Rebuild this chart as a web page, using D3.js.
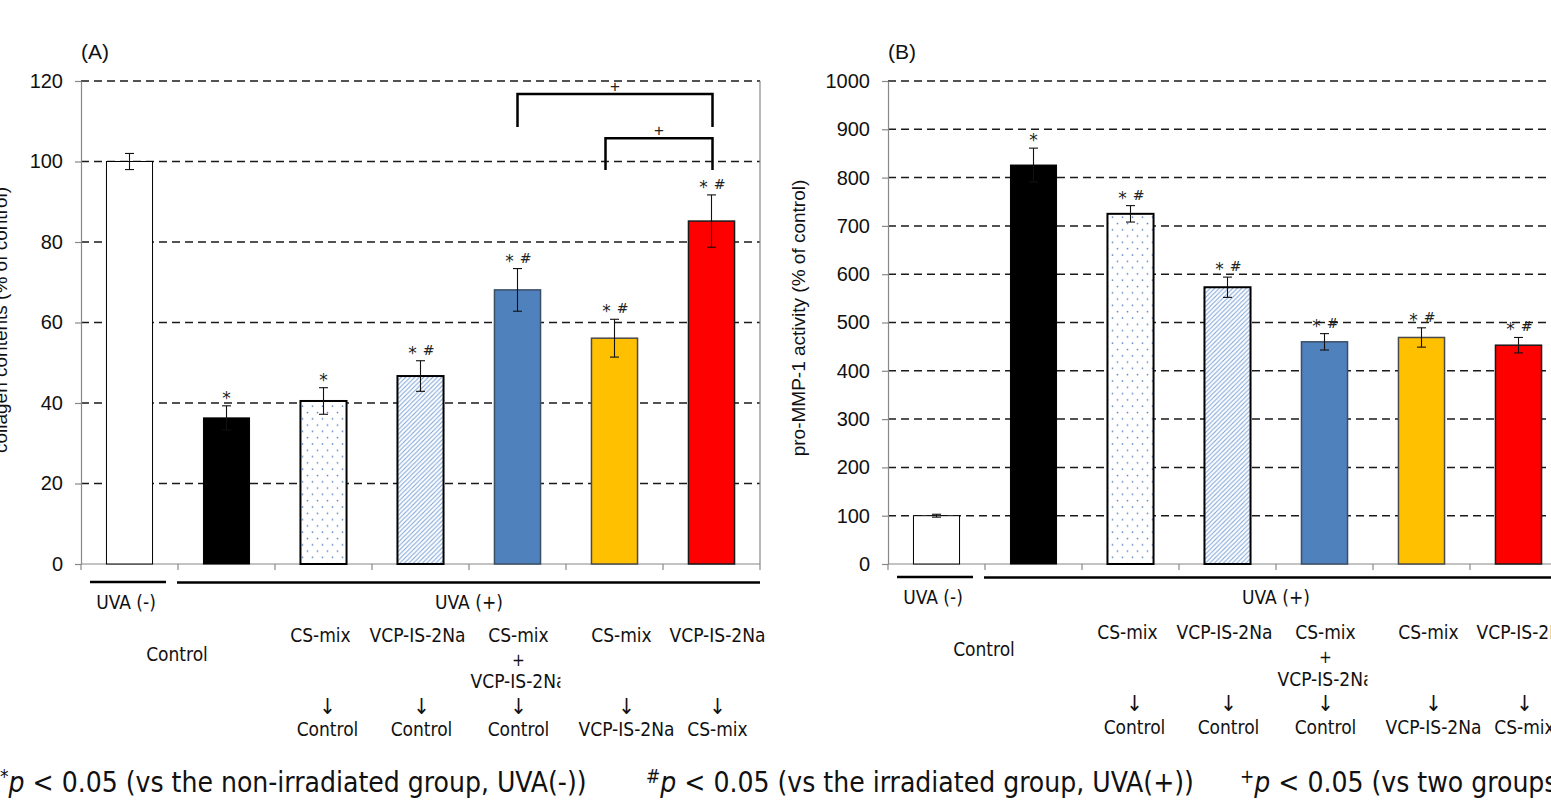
<!DOCTYPE html>
<html>
<head>
<meta charset="utf-8">
<script src="https://cdn.jsdelivr.net/npm/d3@7"></script>
<style>
  html, body { margin: 0; padding: 0; background: #fff; overflow: hidden; }
  svg { display: block; }
</style>
</head>
<body>
<script>
// ---------------- DATA ----------------
const categories = ["UVA(-)", "Control", "CS-mix→Control", "VCP-IS-2Na→Control",
  "CS-mix+VCP-IS-2Na→Control", "CS-mix→VCP-IS-2Na", "VCP-IS-2Na→CS-mix"];

const collagenValues = [100, 36.3, 40.5, 46.7, 68.1, 56.1, 85.2];
const collagenErrors = [2, 3, 3.3, 3.8, 5.3, 4.7, 6.5];
const collagenMarks  = ["", "*", "*", "* #", "* #", "* #", "* #"];
const collagenTicks  = [0, 20, 40, 60, 80, 100, 120];

const mmpValues = [100, 826, 725, 573, 460, 469, 453];
const mmpErrors = [3, 35, 17, 21, 17, 20, 16];
const mmpMarks  = ["", "*", "* #", "* #", "* #", "* #", "* #"];
const mmpTicks  = [0, 100, 200, 300, 400, 500, 600, 700, 800, 900, 1000];

// brackets in panel A (category indices, data-unit heights)
const collagenBrackets = [
  { from: 4, to: 6, top: 116.8, leg: 108.6, label: "+" },
  { from: 5, to: 6, top: 105.8, leg: 97.9, label: "+" }
];

const treatTop    = ["CS-mix", "VCP-IS-2Na", "CS-mix", "CS-mix", "VCP-IS-2Na"];
const treatBottom = ["Control", "Control", "Control", "VCP-IS-2Na", "CS-mix"];

// ---------------- STYLES ----------------
const fills   = ["#ffffff", "#000000", "url(#dots)", "url(#hatch)", "#4F81BD", "#FFC000", "#FF0000"];
const strokes = ["#000000", "#000000", "#000000", "#000000", "#3b4f66", "#4a4a4a", "#1a1a1a"];
const strokeW = [1, 1, 2, 2, 1.5, 1.5, 1.5];

const W = 1551, H = 800;
const svg = d3.select("body").append("svg").attr("width", W).attr("height", H);

const defs = svg.append("defs");
const dp = defs.append("pattern").attr("id", "dots").attr("patternUnits", "userSpaceOnUse")
  .attr("width", 10).attr("height", 12.6);
dp.append("rect").attr("width", 10).attr("height", 12.6).attr("fill", "#fff");
dp.append("circle").attr("cx", 2.5).attr("cy", 3).attr("r", 0.9).attr("fill", "#5b88c4");
dp.append("circle").attr("cx", 7.5).attr("cy", 9.3).attr("r", 0.9).attr("fill", "#5b88c4");

const hp = defs.append("pattern").attr("id", "hatch").attr("patternUnits", "userSpaceOnUse")
  .attr("width", 4.5).attr("height", 4.5);
hp.append("rect").attr("width", 4.5).attr("height", 4.5).attr("fill", "#fff");
hp.append("path").attr("d", "M-1,1 l2,-2 M0,4.5 l4.5,-4.5 M3.5,5.5 l2,-2")
  .attr("stroke", "#7ba2d8").attr("stroke-width", 1);

const numFont = "'Liberation Sans', Arial, sans-serif";
const markFont = "'DejaVu Sans', sans-serif";
const lblFont = "'Liberation Sans Narrow', 'DejaVu Sans Condensed', 'Liberation Sans', sans-serif";

function drawPanel(cfg) {
  const top = 81, bottom = 564, step = 97;
  const x = d3.scaleBand().domain(categories)
    .range([cfg.left, cfg.left + step * categories.length])
    .paddingInner(0.525).paddingOuter(0.2625);
  const y = d3.scaleLinear().domain([0, cfg.max]).range([bottom, top]);
  const g = svg.append("g");

  // gridlines (dashed)
  g.append("g").selectAll("line").data(cfg.ticks.filter(t => t > 0)).join("line")
    .attr("x1", cfg.left).attr("x2", cfg.left + step * 7)
    .attr("y1", d => y(d)).attr("y2", d => y(d))
    .attr("stroke", "#1a1a1a").attr("stroke-width", 1.5)
    .attr("stroke-dasharray", "8,5");

  // right border
  g.append("line").attr("x1", cfg.left + step * 7).attr("x2", cfg.left + step * 7)
    .attr("y1", top).attr("y2", bottom).attr("stroke", "#888").attr("stroke-width", 1.2);

  // left axis
  const ya = g.append("g").attr("transform", `translate(${cfg.left},0)`)
    .call(d3.axisLeft(y).tickValues(cfg.ticks).tickFormat(d3.format("d"))
      .tickSize(6).tickPadding(12).tickSizeOuter(0));
  ya.select(".domain").attr("stroke", "#888").attr("stroke-width", 1.2);
  ya.selectAll(".tick line").attr("stroke", "#888").attr("stroke-width", 1.2);
  ya.selectAll(".tick text").attr("font-family", numFont).attr("font-size", 20).attr("fill", "#111");

  // bottom axis line + boundary ticks
  g.append("line").attr("x1", cfg.left).attr("x2", cfg.left + step * 7)
    .attr("y1", bottom).attr("y2", bottom).attr("stroke", "#888").attr("stroke-width", 1.2);
  g.append("line").attr("x1", cfg.left).attr("x2", cfg.left)
    .attr("y1", bottom).attr("y2", bottom + 6).attr("stroke", "#888").attr("stroke-width", 1.2);
  g.append("g").selectAll("line").data(categories).join("line")
    .attr("x1", d => x(d) - x.step() * x.paddingInner() / 2 + x.step())
    .attr("x2", d => x(d) - x.step() * x.paddingInner() / 2 + x.step())
    .attr("y1", bottom).attr("y2", bottom + 6).attr("stroke", "#888").attr("stroke-width", 1.2);

  // bars
  g.append("g").selectAll("rect").data(cfg.values).join("rect")
    .attr("x", (d, i) => x(categories[i]))
    .attr("width", x.bandwidth())
    .attr("y", d => y(d))
    .attr("height", d => bottom - y(d))
    .attr("fill", (d, i) => fills[i])
    .attr("stroke", (d, i) => strokes[i])
    .attr("stroke-width", (d, i) => strokeW[i]);

  // error bars
  const eb = g.append("g").attr("stroke", "#111").attr("stroke-width", 1.1);
  cfg.values.forEach((v, i) => {
    const cx = x(categories[i]) + x.bandwidth() / 2;
    const e = cfg.errors[i];
    eb.append("line").attr("x1", cx).attr("x2", cx).attr("y1", y(v + e)).attr("y2", y(v - e));
    eb.append("line").attr("x1", cx - 4.5).attr("x2", cx + 4.5).attr("y1", y(v + e)).attr("y2", y(v + e));
    eb.append("line").attr("x1", cx - 4.5).attr("x2", cx + 4.5).attr("y1", y(v - e)).attr("y2", y(v - e));
    // significance marks
    const m = cfg.marks[i];
    if (m) {
      const ty = y(v + e) - 5;
      const parts = m.split(" ");
      if (parts.length === 1) {
        g.append("text").attr("x", cx).attr("y", ty + 3).attr("text-anchor", "middle")
          .attr("font-family", markFont).attr("font-size", 17).attr("fill", "#222").text(parts[0]);
      } else {
        g.append("text").attr("x", cx - 8).attr("y", ty + 3).attr("text-anchor", "middle")
          .attr("font-family", markFont).attr("font-size", 17).attr("fill", "#222").text(parts[0]);
        g.append("text").attr("x", cx + 8).attr("y", ty - 1).attr("text-anchor", "middle")
          .attr("font-family", markFont).attr("font-size", 14).attr("fill", "#222").text(parts[1]);
      }
    }
  });

  // brackets
  (cfg.brackets || []).forEach(b => {
    const x1 = x(categories[b.from]) + x.bandwidth() / 2 + (b.from === 5 ? -9 : 0);
    const x2 = x(categories[b.to]) + x.bandwidth() / 2 + 1;
    g.append("path")
      .attr("d", `M${x1},${y(b.leg)} V${y(b.top)} H${x2} V${y(b.leg)}`)
      .attr("fill", "none").attr("stroke", "#000").attr("stroke-width", 2.5);
    g.append("text").attr("x", (x1 + x2) / 2).attr("y", y(b.top) - 2)
      .attr("text-anchor", "middle").attr("font-family", numFont).attr("font-size", 17)
      .attr("fill", "#222").text(b.label);
  });

  // panel letter
  g.append("text").attr("x", cfg.left + 14).attr("y", 59).attr("text-anchor", "middle")
    .attr("font-family", numFont).attr("font-size", 21).attr("fill", "#111").text(cfg.letter);

  // y-axis title
  g.append("text")
    .attr("transform", `translate(${cfg.titleX},${cfg.titleY}) rotate(-90)`)
    .attr("text-anchor", "middle").attr("font-family", numFont).attr("font-size", 19)
    .attr("fill", "#111").text(cfg.title);

  // group lines
  const L = cfg.lab;
  const b0 = cfg.left; // axis start
  g.append("line").attr("x1", b0 + 9).attr("x2", b0 + 85).attr("y1", L.line).attr("y2", L.line)
    .attr("stroke", "#000").attr("stroke-width", 2.5);
  g.append("line").attr("x1", b0 + 96).attr("x2", b0 + step * 7).attr("y1", L.line + 0.5).attr("y2", L.line + 0.5)
    .attr("stroke", "#000").attr("stroke-width", 2.5);

  const txt = (tx, ty, s, size) => g.append("text").attr("x", tx).attr("y", ty)
    .attr("text-anchor", "middle").attr("font-family", lblFont).attr("font-size", size || 19)
    .attr("fill", "#111").text(s);

  txt(b0 + 45, L.uva, "UVA (-)");
  txt(b0 + 388, L.uva, "UVA (+)");
  txt(b0 + step - 1, L.control, categories[1]);

  const dxTop = [-3, -3, 1, 7, 6];
  const dxBot = [4, 1, 1, 12, 6];
  treatTop.forEach((s, j) => {
    const cx = x(categories[j + 2]) + x.bandwidth() / 2;
    txt(cx + dxTop[j], L.row1, s);
    txt(cx + dxBot[j], L.arrow, "↓", 22);
    txt(cx + dxBot[j], L.bottom, treatBottom[j]);
  });
  // combined treatment extra lines
  const cc = x(categories[4]) + x.bandwidth() / 2 + 1;
  txt(cc, L.plus, "+", 17);
  const clipId = "clip" + cfg.letter.replace(/\W/g, "");
  const t3 = txt(cc, L.row3, "VCP-IS-2Na");
  const tw = t3.node().getComputedTextLength();
  defs.append("clipPath").attr("id", clipId).append("rect")
    .attr("x", cc - tw / 2 - 2).attr("y", L.row3 - 25).attr("width", tw - 4).attr("height", 35);
  t3.attr("clip-path", `url(#${clipId})`);
}

drawPanel({
  letter: "(A)", left: 81, max: 120, ticks: collagenTicks,
  values: collagenValues, errors: collagenErrors, marks: collagenMarks,
  brackets: collagenBrackets,
  title: "collagen contents (% of control)", titleX: 7, titleY: 320,
  lab: { line: 582, uva: 609, row1: 642, control: 661, plus: 666, row3: 688, arrow: 714, bottom: 736 }
});

drawPanel({
  letter: "(B)", left: 888, max: 1000, ticks: mmpTicks,
  values: mmpValues, errors: mmpErrors, marks: mmpMarks,
  title: "pro-MMP-1 activity (% of control)", titleX: 805, titleY: 318,
  lab: { line: 577, uva: 604, row1: 639, control: 656, plus: 663, row3: 686, arrow: 711, bottom: 734 }
});

// footnote
function footItem(xPos, sup, rest) {
  const t = svg.append("text").attr("x", xPos).attr("y", 792).attr("font-family", lblFont)
    .attr("font-size", 28).attr("fill", "#111");
  t.append("tspan").attr("font-size", 19).attr("dy", -9).text(sup);
  t.append("tspan").attr("font-style", "italic").attr("dy", 9).text("p");
  t.append("tspan").text(rest);
}
footItem(0, "*", " < 0.05 (vs the non-irradiated group, UVA(-))");
footItem(646, "#", " < 0.05 (vs the irradiated group, UVA(+))");
footItem(1240, "+", " < 0.05 (vs two groups)");
</script>
</body>
</html>
